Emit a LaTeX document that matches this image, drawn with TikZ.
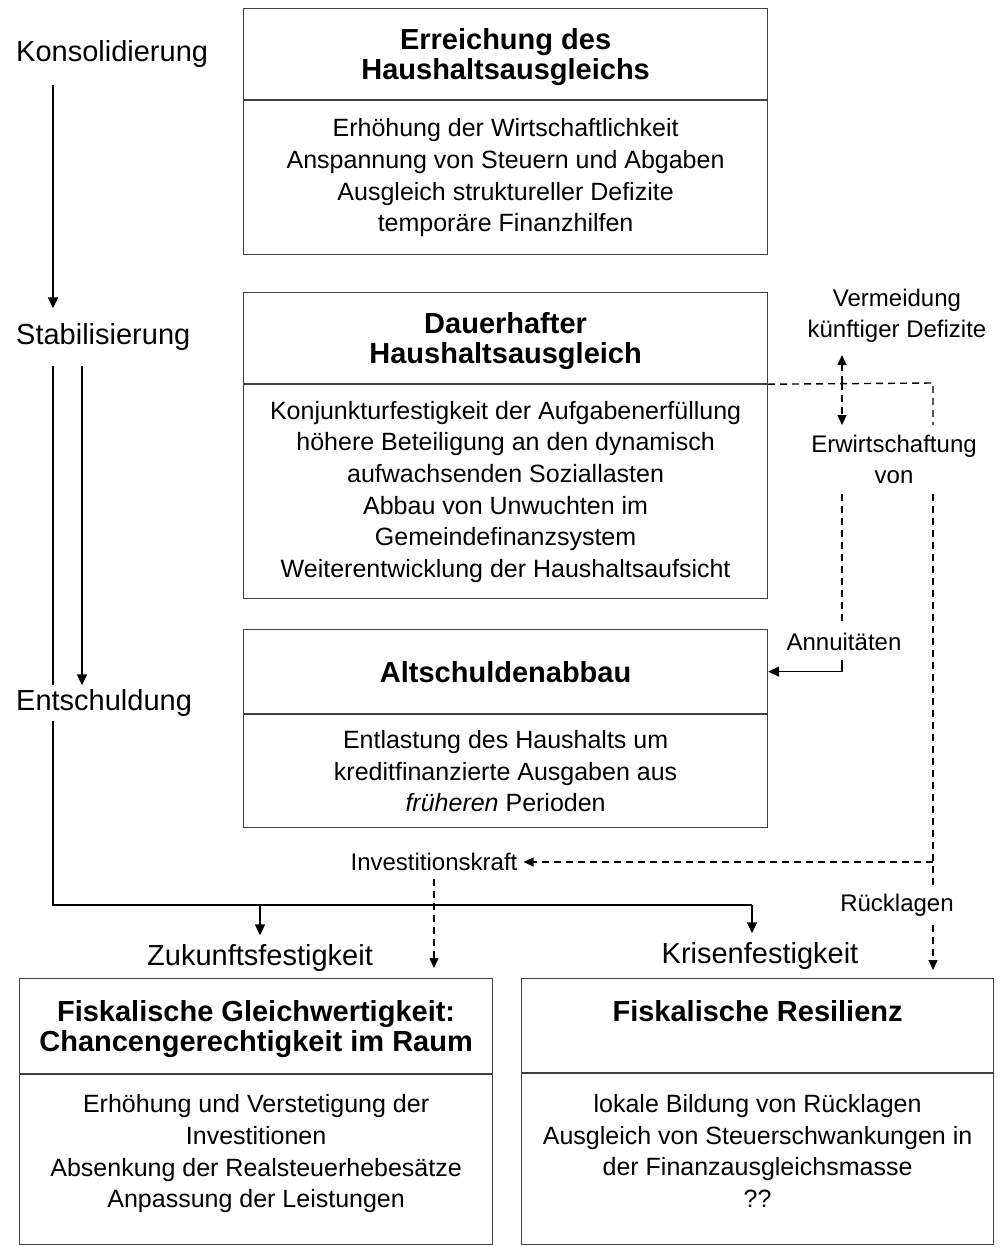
\documentclass[tikz,border=0pt]{standalone}
\usepackage{fontspec}
\setmainfont{Liberation Sans}
\usetikzlibrary{arrows.meta}
\newcommand{\phasefont}{\fontsize{29pt}{34pt}\selectfont}
\newcommand{\kopffont}{\fontsize{29pt}{30pt}\selectfont\bfseries}
\newcommand{\boxfont}{\fontsize{25pt}{31.7pt}\selectfont}
\newcommand{\labelfont}{\fontsize{24pt}{31pt}\selectfont}
\newcommand{\tief}{\rule[-17pt]{0pt}{17pt}}
\begin{document}
\begin{tikzpicture}[x=1pt,y=-1pt,
  phase/.style={font=\phasefont,anchor=west,inner xsep=0pt},
  ziel/.style={font=\phasefont,inner ysep=9pt},
  kopf/.style={draw=black!75,line width=1.2pt,font=\kopffont,align=center,text depth=0pt,minimum width=524pt,anchor=north west},
  rumpf/.style={draw=black!75,line width=1.2pt,font=\boxfont,align=center,minimum width=524pt,anchor=north},
  etikett/.style={font=\labelfont,align=center},
  pfeil/.style={line width=1.6pt,-{Triangle[length=11pt,width=10pt]}},
  linie/.style={line width=1.6pt},
  dick/.style={line width=2.6pt},
  strich/.style={line width=1.4pt,dash pattern=on 7pt off 5pt},
  strichpfeil/.style={strich,-{Triangle[length=10pt,width=9pt]}}]
\useasboundingbox (0,0) rectangle (999,1247);
% Phases
\node[phase,inner ysep=17pt] (konsol) at (16,54) {Konsolidierung};
\node[phase,inner ysep=15pt] (stabil) at (16,337) {Stabilisierung};
\node[phase,inner ysep=4pt] (entschuld) at (16,703) {Entschuldung};
\node[ziel] (zukunft) at (260,958) {Zukunftsfestigkeit};
\node[ziel] (krise) at (760,956) {Krisenfestigkeit};
% Boxes
\node[kopf,minimum height=91pt] (k1) at (243,8) {Erreichung des\\Haushaltsausgleichs};
\node[rumpf,minimum height=154pt] (r1) at (k1.south) {Erhöhung der Wirtschaftlichkeit\\Anspannung von Steuern und Abgaben\\Ausgleich struktureller Defizite\\temporäre Finanzhilfen};
\node[kopf,minimum height=91pt] (k2) at (243,292) {Dauerhafter\\Haushaltsausgleich};
\node[rumpf,minimum height=214pt] (r2) at (k2.south) {Konjunkturfestigkeit der Aufgabenerfüllung\\höhere Beteiligung an den dynamisch\\aufwachsenden Soziallasten\\Abbau von Unwuchten im\\Gemeindefinanzsystem\\Weiterentwicklung der Haushaltsaufsicht};
\node[kopf,minimum height=84pt] (k3) at (243,629) {Altschuldenabbau};
\node[rumpf,minimum height=113pt] (r3) at (k3.south) {Entlastung des Haushalts um\\kreditfinanzierte Ausgaben aus\\\textit{früheren} Perioden};
\node[kopf,minimum width=473pt,minimum height=95pt] (k4) at (19,978) {Fiskalische Gleichwertigkeit:\\Chancengerechtigkeit im Raum};
\node[rumpf,minimum width=473pt,minimum height=170pt] (r4) at (k4.south) {Erhöhung und Verstetigung der\\Investitionen\\Absenkung der Realsteuerhebesätze\\Anpassung der Leistungen\tief};
\node[kopf,minimum width=472pt,minimum height=94pt] (k5) at (521,978) {Fiskalische Resilienz\\\strut};
\node[rumpf,minimum width=472pt,minimum height=171pt] (r5) at (k5.south) {lokale Bildung von Rücklagen\\Ausgleich von Steuerschwankungen in\\der Finanzausgleichsmasse\\??\tief};
% Labels
\node[etikett,anchor=south,inner ysep=12pt] (verm) at (897,355) {Vermeidung\\künftiger Defizite};
\node[etikett,anchor=north,inner ysep=10pt] (erw) at (894,425) {Erwirtschaftung\\von};
\node[etikett,inner ysep=9pt] (annu) at (844,642) {Annuitäten};
\node[etikett,inner xsep=6pt,inner ysep=8pt] (invest) at (434,862) {Investitionskraft};
\node[etikett,inner ysep=9pt] (rueck) at (897,905) {Rücklagen};
\coordinate (achse1) at (53,0);
\coordinate (achse2) at (82,0);
\coordinate (knick) at (53,905);
\coordinate (ecke) at (752,905);
\coordinate (abzweig) at (842,383);
\coordinate (rechts) at (933,383);
% Left flow
\draw[pfeil] (konsol.south -| achse1) -- (stabil.north -| achse1);
\draw[linie] (stabil.south -| achse1) -- (entschuld.north -| achse1);
\draw[pfeil] (stabil.south -| achse2) -- (entschuld.north -| achse2);
\draw[dick] (entschuld.south -| achse1) -- (knick) -- (ecke);
\draw[pfeil] (zukunft.north |- knick) -- (zukunft.north);
\draw[pfeil] (ecke) -- (ecke |- krise.north);
% Dashed flow
\draw[strich] (k2.south east) -- (rechts) -- (erw.north -| rechts);
\draw[strichpfeil] (abzweig) -- (abzweig |- verm.south);
\draw[strichpfeil] (abzweig) -- (abzweig |- erw.north);
\draw[strich] (erw.south -| rechts) -- (rueck.north -| rechts);
\draw[strichpfeil,shorten >=8pt] (rueck.south -| rechts) -- (rechts |- k5.north);
\draw[strichpfeil] (rechts |- invest) -- (invest.east);
\draw[strichpfeil,shorten >=10pt] (invest.south) -- (invest.south |- k4.north);
\draw[strich] (erw.south -| abzweig) -- (abzweig |- annu.north);
\draw[pfeil] (annu.south -| abzweig) |- (k3.east);
\end{tikzpicture}
\end{document}
